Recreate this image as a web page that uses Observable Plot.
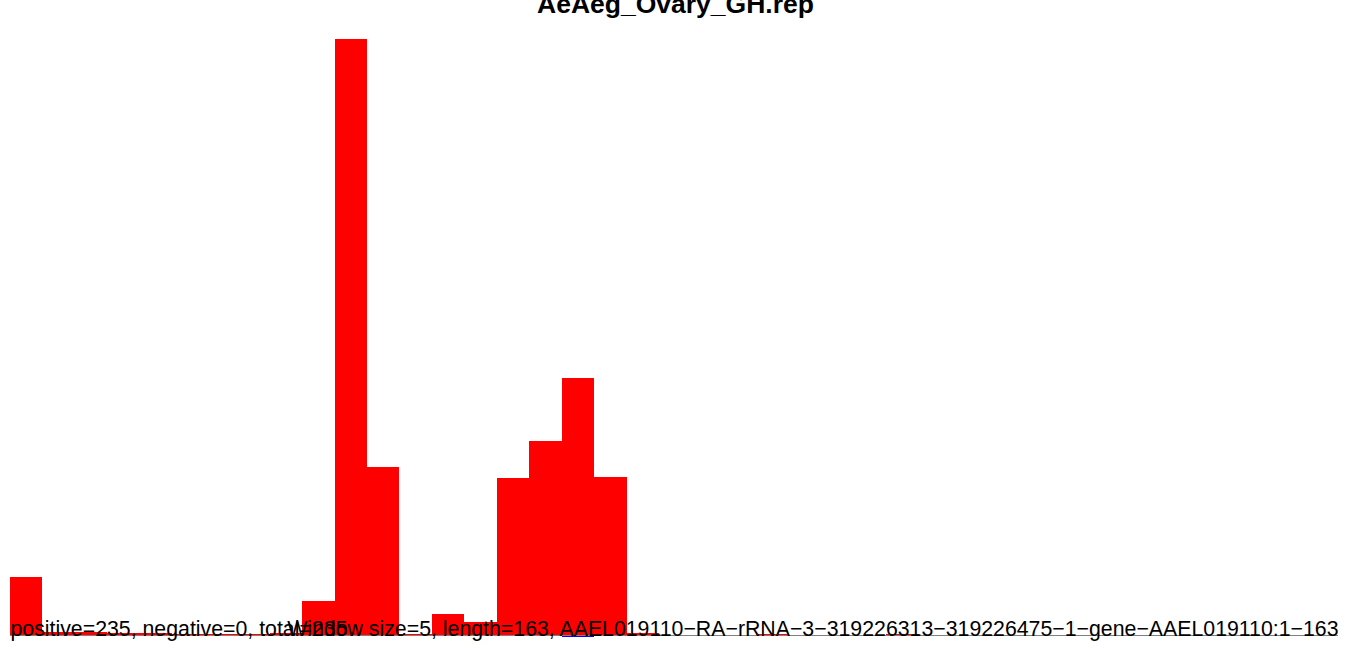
<!DOCTYPE html>
<html>
<head>
<meta charset="utf-8">
<script src="https://cdn.jsdelivr.net/npm/d3@7"></script>
<script src="https://cdn.jsdelivr.net/npm/@observablehq/plot@0.6"></script>
<style>
  html, body { margin: 0; padding: 0; background: #ffffff; }
  #chart { width: 1350px; height: 648px; overflow: hidden; }
</style>
</head>
<body>
<div id="chart"></div>
<script>
// ---- data ----
const chartTitle = "AeAeg_Ovary_GH.rep";
const windowSize = 5;
const seqLength = 163;
const binStarts = [0,5,10,15,20,25,30,35,40,45,50,55,60,65,70,75,80,85,90,95,100,105,110,115,120,125,130,135,140,145,150,155,160];
const positiveValues = [8.27,0.4,0.4,0.3,0.3,0.2,0.2,0.2,0.3,4.85,85,23.97,0.15,3.0,1.85,22.4,27.7,36.7,22.5,0.3,0,0,0,0.2,0,0,0,0.15,0,0,0,0,0];
const negativeValues = [0,0,0,0,0.2,0,0,0,0,0,0,0,0.2,0.2,0.15,0,0,0.3,0,0,0,0,0,0,0,0,0.15,0,0,0,0,0,0];
const leftNote = "positive=235, negative=0, total=235";
const rightNote = "Window size=5, length=163, AAEL019110\u2212RA\u2212rRNA\u22123\u2212319226313\u2212319226475\u22121\u2212gene\u2212AAEL019110:1\u2212163";
const xExtent = [0, 204.6];
const yExtent = [0, 85];

// ---- build table ----
const bins = binStarts.map((s, i) => ({
  start: s,
  end: s + windowSize,
  pos: positiveValues[i],
  neg: negativeValues[i]
}));

const font = "'Liberation Sans', Arial, Helvetica, sans-serif";

const chart = Plot.plot({
  width: 1350,
  height: 648,
  margin: 0,
  style: { fontFamily: font, background: "#ffffff", color: "#000000" },
  x: { domain: xExtent, range: [10, 1338], axis: null },
  y: { domain: yExtent, range: [635, 39], axis: null },
  marks: [
    Plot.rectY(bins, { x1: "start", x2: "end", y1: 0, y2: "pos", fill: "#ff0000", shapeRendering: "crispEdges" }),
    Plot.rectY(bins, { x1: "start", x2: "end", y1: 0, y2: d => -d.neg, fill: "#0000ff", shapeRendering: "crispEdges" }),
    Plot.ruleY([0], { x1: xExtent[0], x2: xExtent[1], stroke: "#808080", strokeWidth: 1 }),
    Plot.text([chartTitle], {
      text: d => d, frameAnchor: "top", lineAnchor: "bottom", dy: 12,
      fontSize: 26.5, fontWeight: "bold", fill: "#000000"
    }),
    Plot.text([leftNote], {
      text: d => d, frameAnchor: "bottom-left", textAnchor: "start", lineAnchor: "bottom",
      dx: 10, dy: -13, fontSize: 21.3, fill: "#000000"
    }),
    Plot.text([rightNote], {
      text: d => d, frameAnchor: "bottom-right", textAnchor: "end", lineAnchor: "bottom",
      dx: -12, dy: -13, fontSize: 21.3, fill: "#000000"
    })
  ]
});

document.getElementById("chart").appendChild(chart);
</script>
</body>
</html>
